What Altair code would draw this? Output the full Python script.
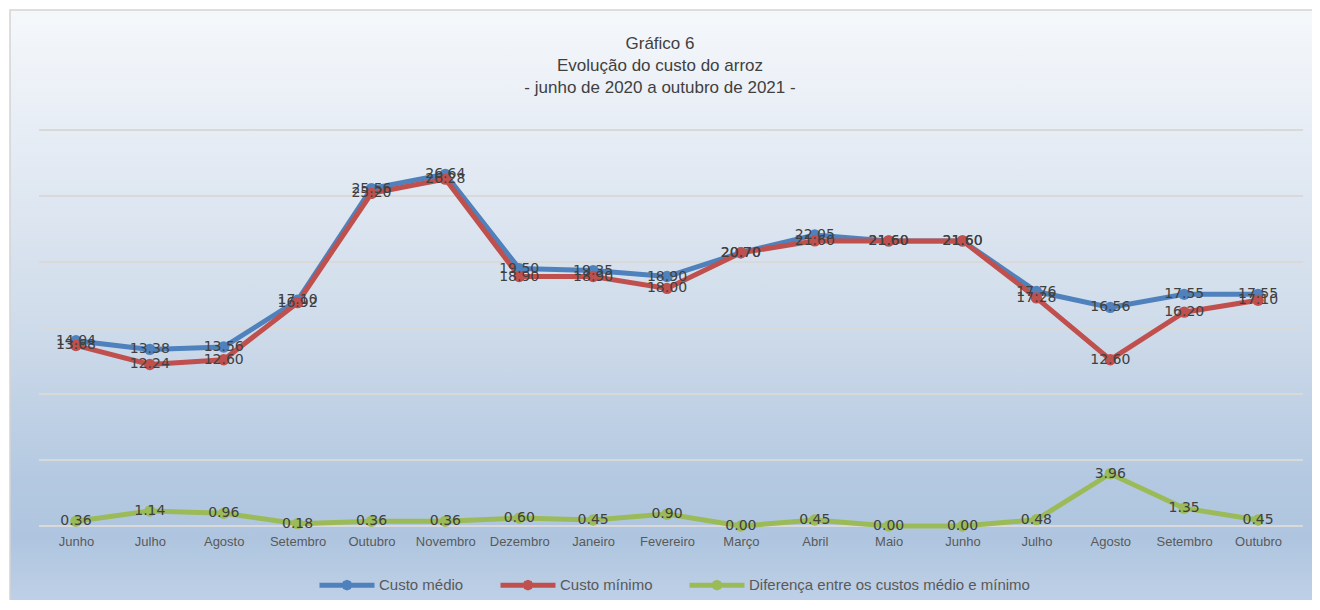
import altair as alt
import pandas as pd

months = ["Junho", "Julho", "Agosto", "Setembro", "Outubro", "Novembro", "Dezembro",
          "Janeiro", "Fevereiro", "Março", "Abril", "Maio", "Junho", "Julho",
          "Agosto", "Setembro", "Outubro"]
custo_medio = [14.04, 13.38, 13.56, 17.10, 25.56, 26.64, 19.50, 19.35, 18.90,
               20.70, 22.05, 21.60, 21.60, 17.76, 16.56, 17.55, 17.55]
custo_minimo = [13.68, 12.24, 12.60, 16.92, 25.20, 26.28, 18.90, 18.90, 18.00,
                20.70, 21.60, 21.60, 21.60, 17.28, 12.60, 16.20, 17.10]
diferenca = [0.36, 1.14, 0.96, 0.18, 0.36, 0.36, 0.60, 0.45, 0.90,
             0.00, 0.45, 0.00, 0.00, 0.48, 3.96, 1.35, 0.45]
series = ["Custo médio", "Custo mínimo", "Diferença entre os custos médio e mínimo"]
colors = ["#4f81bd", "#c0504d", "#9bbb59"]
grid_values = [0, 5, 10, 15, 20, 25, 30]

W, H = 1256, 396
FONT = "Liberation Sans, Arial, sans-serif"

# unique category keys: second-year months carry an invisible zero-width space
keys = []
seen = set()
for m in months:
    k = m
    while k in seen:
        k = k + "\u200b"
    seen.add(k)
    keys.append(k)

rows = []
for s, vals in zip(series, [custo_medio, custo_minimo, diferenca]):
    for k, v in zip(keys, vals):
        rows.append({"mes": k, "serie": s, "valor": v})
df = pd.DataFrame(rows)

xscale = alt.Scale(type="point", domain=keys, padding=0.5)
yscale = alt.Scale(domain=[0, 30], nice=False, zero=False)
cscale = alt.Scale(domain=series, range=colors)

# legend symbol: a line with a small (octagonal) marker in the middle, drawn as a stroke
LEGEND_SYMBOL = ("M-1,0 L1,0 "
                 "M0.1,0 L0.071,0.071 L0,0.1 L-0.071,0.071 L-0.1,0 "
                 "L-0.071,-0.071 L0,-0.1 L0.071,-0.071 Z")

bg = alt.Chart(pd.DataFrame({"a": [0]})).mark_rect(
    fill=alt.LinearGradient(
        gradient="linear", x1=0, x2=0, y1=0, y2=1,
        stops=[
            alt.GradientStop(offset=0.0, color="#f5f8fb"),
            alt.GradientStop(offset=0.2, color="#e7edf5"),
            alt.GradientStop(offset=0.5, color="#d1ddeb"),
            alt.GradientStop(offset=0.78, color="#b4c9e1"),
            alt.GradientStop(offset=0.88, color="#afc5df"),
            alt.GradientStop(offset=1.0, color="#c0d2e8"),
        ]),
    stroke="#d4d4d4", strokeWidth=1.5,
).encode(x=alt.value(-29), x2=alt.value(1320), y=alt.value(-120), y2=alt.value(480))

grid = alt.Chart(pd.DataFrame({"g": grid_values})).mark_rule(
    color="#d9d9d9", strokeWidth=2
).encode(
    y=alt.Y("g:Q", scale=yscale, axis=None),
    x=alt.value(0), x2=alt.value(1264),
)

base = alt.Chart(df)
lines = base.mark_line(strokeWidth=5).encode(
    x=alt.X("mes:N", scale=xscale, sort=keys,
            axis=alt.Axis(title=None, grid=False, domain=False, ticks=False, labelAngle=0,
                          labelPadding=9, labelFont=FONT, labelFontSize=13,
                          labelColor="#595959", zindex=1)),
    y=alt.Y("valor:Q", scale=yscale, axis=None),
    stroke=alt.Stroke("serie:N", scale=cscale, legend=alt.Legend(
        title=None, orient="none", direction="horizontal",
        legendX=278, legendY=425,
        symbolType=LEGEND_SYMBOL, symbolSize=3025, symbolStrokeWidth=5,
        labelOffset=2, columnPadding=26, labelFont=FONT, labelFontSize=15,
        labelColor="#595959", labelLimit=600)),
)
points = base.mark_point(filled=True, size=130, opacity=1).encode(
    x=alt.X("mes:N", scale=xscale, sort=keys),
    y=alt.Y("valor:Q", scale=yscale),
    fill=alt.Fill("serie:N", scale=cscale, legend=None),
)
labels = base.mark_text(font="DejaVu Sans", fontSize=14, color="#404040",
                        align="center", baseline="middle").encode(
    x=alt.X("mes:N", scale=xscale, sort=keys),
    y=alt.Y("valor:Q", scale=yscale),
    text=alt.Text("valor:Q", format=".2f"),
)

chart = alt.layer(bg, grid, lines, points, labels).properties(
    width=W, height=H,
    autosize=alt.AutoSizeParams(type="none"),
    padding={"left": 31, "top": 122, "right": 17, "bottom": 74},
    background="white",
    title=alt.TitleParams(
        text=["Gráfico 6", "Evolução do custo do arroz", "- junho de 2020 a outubro de 2021 -"],
        font=FONT, fontSize=17, fontWeight="normal", color="#404040",
        lineHeight=22, anchor="middle", frame="group", dx=-7, offset=-88),
).configure_view(stroke=None)

chart.save("out.html", embed_options={"renderer": "svg", "actions": False})
